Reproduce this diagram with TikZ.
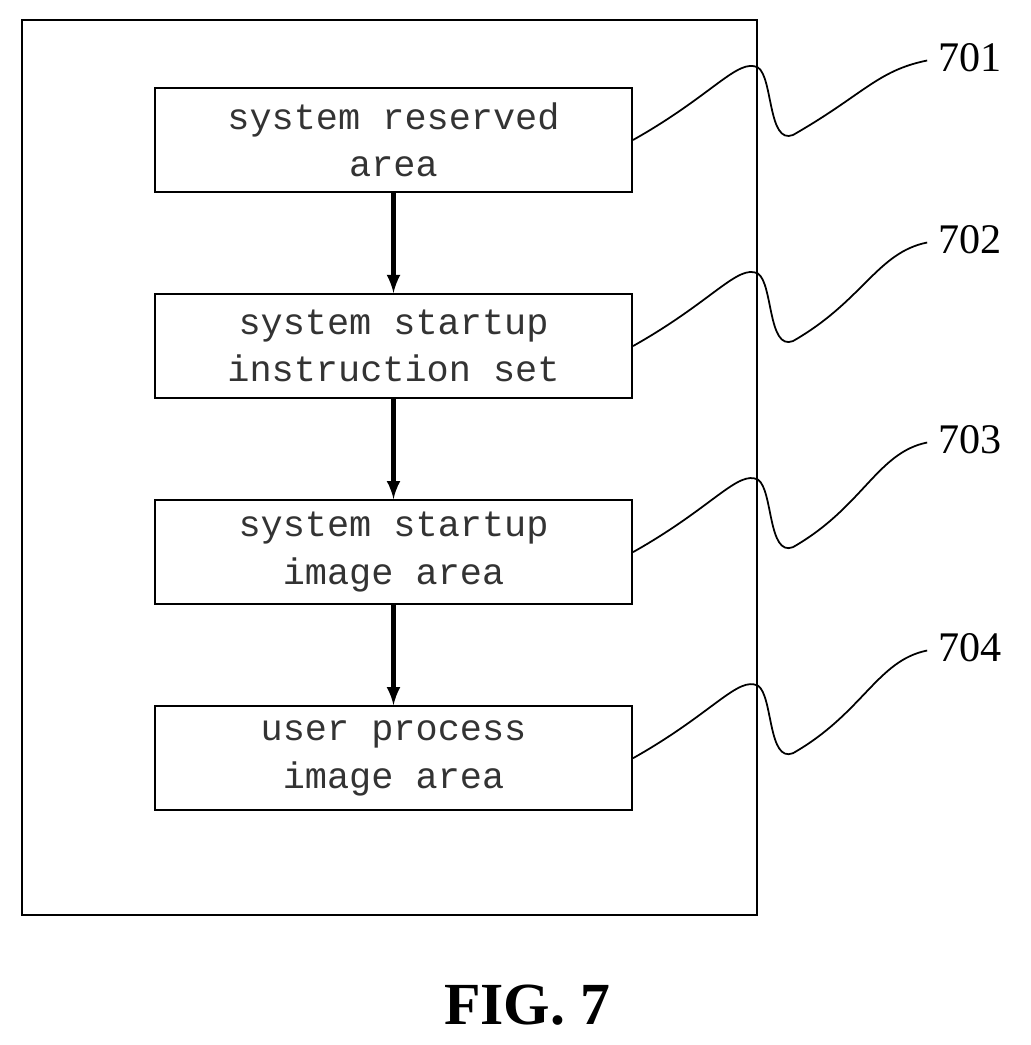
\documentclass[tikz,border=0pt]{standalone}
\usepackage{fontspec}
\setmainfont{Liberation Serif}
\setmonofont{Liberation Mono}
\usetikzlibrary{positioning,arrows}
\tikzstyle{areanode}=[rectangle, draw=black, line width=1.2pt, minimum width=9.54cm, minimum height=2.08cm, align=center, font=\fontsize{21}{27}\selectfont\ttfamily, text=black!80]
\tikzstyle{refnode}=[font=\fontsize{24}{28}\selectfont]
\begin{document}
\begin{tikzpicture}[x=0.02cm,y=-0.02cm]
\useasboundingbox (0,0) rectangle (1031,1045);
%Frame
\draw[line width=1.2pt] (22,20) rectangle (757,915);
%Nodes
\node[areanode] (a1) at (393.5,140) {system reserved\\area};
\node[areanode] (a2) [below=2cm of a1] {system startup\\instruction set};
\node[areanode] (a3) [below=2cm of a2] {system startup\\image area};
\node[areanode] (a4) [below=2cm of a3] {user process\\image area};
\node[refnode] (r1) at (970,58) {701};
\node[refnode] (r2) at (970,240) {702};
\node[refnode] (r3) at (970,440) {703};
\node[refnode] (r4) at (970,648) {704};
%Lines
\draw[-latex, line width=2.5pt] (a1) -- (a2);
\draw[-latex, line width=2.5pt] (a2) -- (a3);
\draw[-latex, line width=2.5pt] (a3) -- (a4);
\foreach \i in {1,2,3,4}{
  \coordinate (e\i) at ([xshift=-0.1cm,yshift=-0.05cm]r\i.west);
  \draw[line width=1pt] (a\i.east) .. controls +(80,-45) and +(-20,-10) .. ([xshift=2.5cm,yshift=1.45cm]a\i.east)
    .. controls +(15,10) and +(-25,10) .. ([xshift=3.2cm,yshift=0.1cm]a\i.east)
    .. controls +(70,-40) and +(-50,10) .. (e\i);
}
\node[font=\fontsize{34}{40}\selectfont\bfseries] (fig) at (527,1005) {FIG. 7};
\end{tikzpicture}
\end{document}
